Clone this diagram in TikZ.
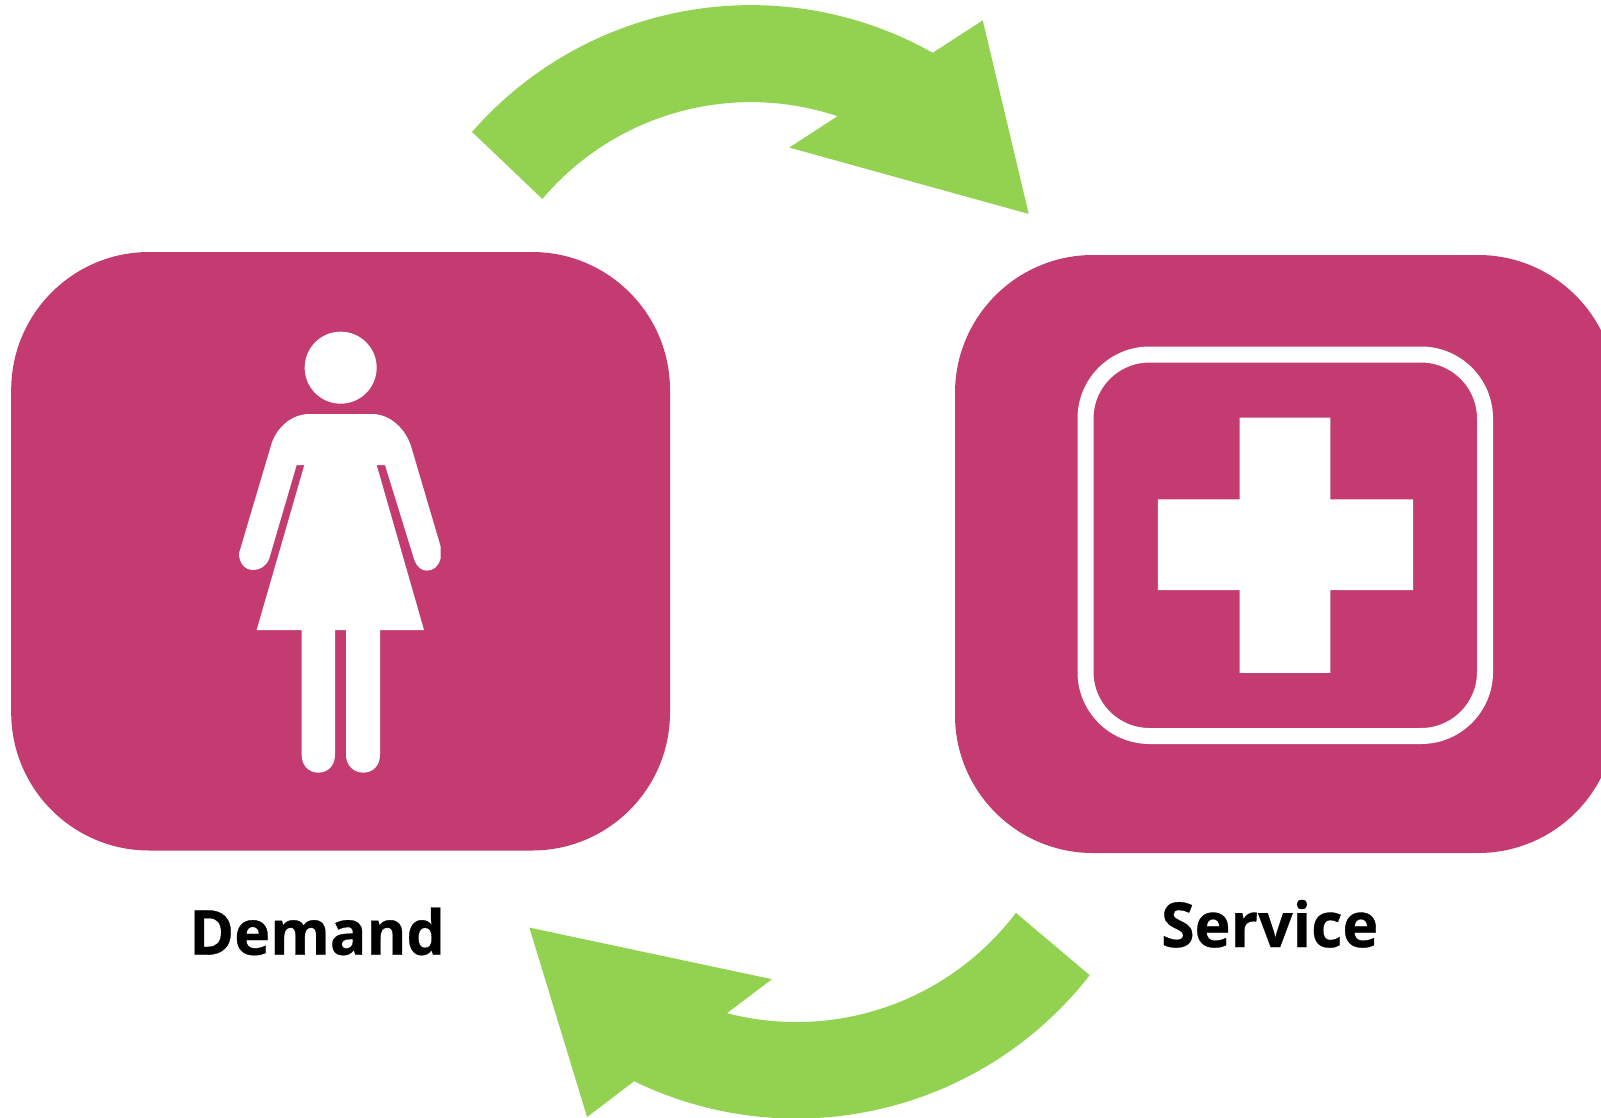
\documentclass[tikz,border=0pt]{standalone}
\usepackage{graphicx}
\usepackage{fontspec}
\setmainfont{Open Sans}[BoldFeatures={FakeBold=0.5}]
\definecolor{rose}{HTML}{C43B72}
\definecolor{leaf}{HTML}{92D250}
\tikzset{
  tile/.style={fill=rose,draw=none},
  glyph/.style={fill=white,draw=none},
  curvearrow/.style={fill=leaf,draw=none},
  caption/.style={anchor=base west,inner sep=0pt,font=\fontsize{62}{70}\selectfont\bfseries,text=black}
}
\begin{document}
\begin{tikzpicture}[x=1pt,y=-1pt]
\useasboundingbox (0,0) rectangle (1601,1117);
\clip (0,0) rectangle (1601,1117);
% tiles
\fill[tile,rounded corners=138pt] (11.2,252) rectangle (670,850.5);
\fill[tile,rounded corners=138pt] (955,255) rectangle (1616,853);
% cross panel
\draw[draw=white,line width=16pt,rounded corners=64pt] (1085.5,354.5) rectangle (1485,736);
\fill[glyph] (1239.6,417.6) -- (1330.4,417.6) -- (1330.4,499.3) -- (1413,499.3) -- (1413,590.2) -- (1330.4,590.2) -- (1330.4,672.9) -- (1239.6,672.9) -- (1239.6,590.2) -- (1157.9,590.2) -- (1157.9,499.3) -- (1239.6,499.3) -- cycle;
% figure
\begin{scope}[shift={(220,320)},x=0.33333pt,y=-0.33333pt]
\fill[glyph] (362,143) circle[radius=36pt];
\fill[glyph] (265,282) -- (460,282)
  .. controls (510,284) and (558,325) .. (575,385)
  -- (662,680) -- (662,715)
  .. controls (655,740) and (640,752) .. (620,752)
  .. controls (605,752) and (590,740) .. (583,720)
  -- (495,435) -- (470,435) -- (612,930) -- (480,930) -- (480,1305)
  .. controls (480,1335) and (460,1358) .. (430,1358)
  .. controls (400,1358) and (378,1335) .. (378,1305)
  -- (378,930) -- (345,930) -- (345,1305)
  .. controls (345,1335) and (325,1358) .. (295,1358)
  .. controls (265,1358) and (245,1335) .. (245,1305)
  -- (245,930) -- (110,930) -- (253,435) -- (230,435) -- (148,715)
  .. controls (140,738) and (120,750) .. (100,750)
  .. controls (75,750) and (57,730) .. (57,700)
  -- (155,370)
  .. controls (172,320) and (215,284) .. (265,282) -- cycle;
\end{scope}
% curved arrows
\begin{scope}[x=1.02104pt,y=-1.02104pt]
\fill[curvearrow] plot[domain=138.9:60.6,samples=80] ({735.5+362.5*cos(\x)},{367.5-362.5*sin(\x)})
  -- (962.5,20) -- (1007.5,209.5) -- (773,144.5) -- (820,114)
  -- plot[domain=71.5:139.8,samples=80] ({735.5+267.5*cos(\x)},{367.5-267.5*sin(\x)}) -- cycle;
\fill[curvearrow] plot[domain=-37.9:-115.9,samples=80] ({780+364*cos(\x)},{731.5-364*sin(\x)})
  -- (575,1094) -- (518.5,908.5) -- (756,959) -- (711,993)
  -- plot[domain=-104.8:-37.1,samples=80] ({780+269.5*cos(\x)},{731.5-269.5*sin(\x)}) -- cycle;
\node[caption] (demand) at (185.2,935) {\scalebox{0.98}[1]{Demand}};
\node[caption] (service) at (1137,927.5) {\scalebox{0.98}[1]{Service}};
\end{scope}
\end{tikzpicture}
\end{document}
